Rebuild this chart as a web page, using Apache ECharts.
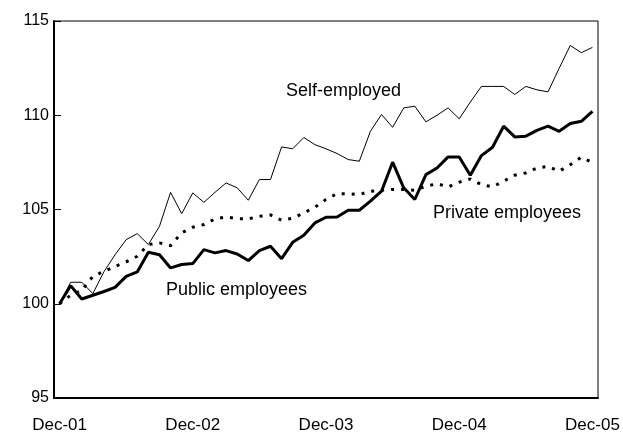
<!DOCTYPE html>
<html>
<head>
<meta charset="utf-8">
<script src="https://cdn.jsdelivr.net/npm/echarts@6/dist/echarts.min.js"></script>
<style>
html,body{margin:0;padding:0;background:#fff;}
#chart{width:623px;height:434px;}
</style>
</head>
<body>
<div id="chart"></div>
<script>
// Monthly categories Dec-01 .. Dec-05 (49 months)
const monthNames = ['Dec','Jan','Feb','Mar','Apr','May','Jun','Jul','Aug','Sep','Oct','Nov'];
const startYear = 1; // 2001
const nMonths = 49;
const tickLabels = ['Dec-01','Dec-02','Dec-03','Dec-04','Dec-05'];

const selfEmployed = [
  100.0, 101.14, 101.14, 100.54, 101.7, 102.6, 103.4, 103.72, 103.14, 104.11,
  105.91, 104.78, 105.88, 105.38, 105.91, 106.41, 106.15, 105.49, 106.59, 106.59,
  108.32, 108.22, 108.82, 108.44, 108.22, 107.97, 107.65, 107.56, 109.15, 110.04,
  109.36, 110.39, 110.48, 109.65, 110.0, 110.39, 109.81, 110.7, 111.53, 111.53,
  111.53, 111.1, 111.53, 111.35, 111.24, 112.49, 113.7, 113.32, 113.6
];
const privateEmployees = [
  100.0, 100.45, 100.71, 101.45, 101.72, 101.98, 102.22, 102.52, 103.14, 103.23,
  103.08, 103.76, 104.06, 104.2, 104.5, 104.6, 104.52, 104.5, 104.64, 104.71,
  104.43, 104.54, 104.82, 105.12, 105.53, 105.84, 105.83, 105.79, 105.97, 106.02,
  106.06, 106.06, 106.02, 106.23, 106.37, 106.2, 106.45, 106.62, 106.32, 106.2,
  106.5, 106.82, 106.94, 107.2, 107.29, 107.03, 107.38, 107.77, 107.5
];
const publicEmployees = [
  100.0, 100.96, 100.25, 100.45, 100.65, 100.87, 101.45, 101.69, 102.73, 102.6,
  101.9, 102.08, 102.13, 102.87, 102.7, 102.82, 102.64, 102.29, 102.82, 103.05,
  102.39, 103.26, 103.63, 104.29, 104.59, 104.6, 104.96, 104.96, 105.44, 105.97,
  107.51, 106.15, 105.53, 106.85, 107.2, 107.79, 107.79, 106.82, 107.86, 108.3,
  109.42, 108.85, 108.89, 109.2, 109.42, 109.15, 109.56, 109.68, 110.21
];

const categories = [];
for (let i = 0; i < nMonths; i++) {
  const yr = startYear + Math.floor((i + 11) / 12);
  categories.push(monthNames[i % 12] + '-' + String(yr).padStart(2, '0'));
}

const FONT = '"Liberation Sans", Arial, sans-serif';
const chart = echarts.init(document.getElementById('chart'), null, {renderer: 'canvas'});
chart.setOption({
  animation: false,
  backgroundColor: '#ffffff',
  grid: {left: 54, right: 25, top: 21, bottom: 36, show: true, borderColor: '#000', borderWidth: 1, backgroundColor: 'transparent'},
  xAxis: {
    type: 'category',
    data: categories,
    boundaryGap: true,
    axisLine: {lineStyle: {color: '#000', width: 2}},
    axisTick: {inside: true, length: 6, interval: (i) => i % 12 === 0, lineStyle: {color: '#000', width: 1}},
    axisLabel: {
      interval: (i) => i % 12 === 0,
      formatter: (v, i) => tickLabels[i / 12] || '',
      color: '#000', fontSize: 17, fontFamily: FONT, margin: 19
    },
    splitLine: {show: false}
  },
  yAxis: {
    type: 'value',
    min: 95, max: 115, interval: 5,
    axisLine: {show: true, lineStyle: {color: '#000', width: 2}},
    axisTick: {show: true, inside: true, length: 7, lineStyle: {color: '#000', width: 1}},
    axisLabel: {color: '#000', fontSize: 16, fontFamily: FONT, margin: 5},
    splitLine: {show: false}
  },
  series: [
    {name: 'Self-employed', type: 'line', data: selfEmployed, symbol: 'none',
     lineStyle: {color: '#000', width: 1}},
    {name: 'Private employees', type: 'line', data: privateEmployees, symbol: 'none',
     lineStyle: {color: '#000', width: 3, type: [3, 7]}},
    {name: 'Public employees', type: 'line', data: publicEmployees, symbol: 'none',
     lineStyle: {color: '#000', width: 3}}
  ],
  graphic: [
    {type: 'text', left: 286, top: 82, style: {text: 'Self-employed', fill: '#000', font: '18px ' + FONT}},
    {type: 'text', left: 433, top: 204, style: {text: 'Private employees', fill: '#000', font: '18px ' + FONT}},
    {type: 'text', left: 166, top: 281, style: {text: 'Public employees', fill: '#000', font: '18px ' + FONT}}
  ]
});
</script>
</body>
</html>
